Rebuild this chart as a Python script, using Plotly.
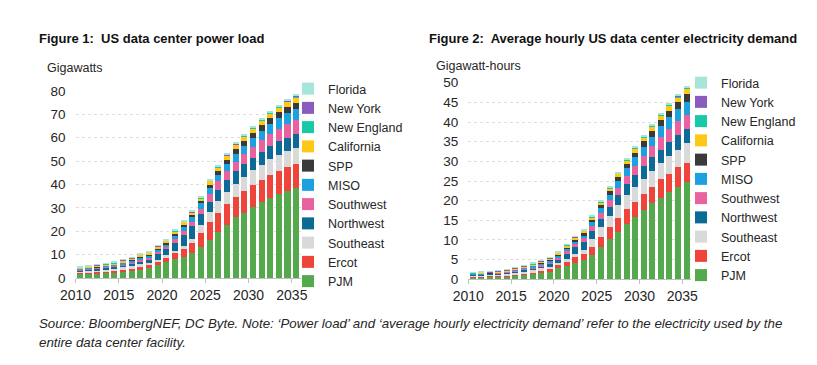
import plotly.graph_objects as go

years = list(range(2010, 2036))
regions = ["PJM", "Ercot", "Southeast", "Northwest", "Southwest", "MISO", "SPP",
           "California", "New England", "New York", "Florida"]
colors = ["#53A94B", "#EE4439", "#D9D9D9", "#0B6A96", "#E9619F", "#1CA0E0", "#3A3A3A",
          "#FFC814", "#17C9A6", "#8B5BBF", "#A6E5DA"]

# Figure 1: power load, gigawatts (one list per region, 2010..2035)
gw_pjm = [1.8, 1.9, 2.0, 2.2, 2.4, 2.7, 3.0, 3.6, 4.2, 5.4, 6.8, 8.0, 9.1, 10.6, 13.3, 16.4, 19.6, 22.8, 25.9, 28.0, 30.4, 32.4, 34.3, 36.1, 37.4, 38.6]
gw_ercot = [0.5, 0.6, 0.6, 0.7, 0.7, 0.8, 0.9, 1.1, 1.2, 1.4, 1.7, 2.8, 3.2, 4.2, 5.8, 7.5, 8.4, 8.8, 8.8, 9.3, 9.4, 9.6, 9.7, 9.7, 9.9, 10.0]
gw_southeast = [0.6, 0.7, 0.8, 0.8, 0.9, 1.0, 1.1, 1.2, 1.2, 1.0, 1.2, 0.9, 1.5, 1.9, 3.6, 4.2, 4.9, 5.3, 5.7, 6.0, 6.2, 6.5, 6.7, 6.9, 7.0, 7.1]
gw_northwest = [0.5, 0.5, 0.6, 0.7, 0.8, 0.9, 1.1, 1.3, 1.5, 2.6, 2.5, 3.4, 4.5, 5.5, 4.5, 4.6, 4.9, 5.1, 5.3, 5.5, 5.5, 5.6, 5.6, 5.7, 5.8, 5.9]
gw_southwest = [0.3, 0.3, 0.3, 0.4, 0.4, 0.5, 0.6, 0.7, 0.8, 0.9, 1.1, 1.6, 1.7, 1.9, 2.4, 3.3, 3.6, 3.8, 4.1, 4.4, 4.7, 5.0, 5.3, 5.5, 5.7, 5.8]
gw_miso = [0.3, 0.3, 0.4, 0.4, 0.5, 0.6, 0.7, 0.8, 0.8, 0.9, 1.1, 1.3, 1.7, 1.9, 2.4, 2.5, 2.7, 2.9, 3.4, 3.4, 3.6, 3.9, 4.2, 4.4, 4.6, 4.8]
gw_spp = [0.1, 0.1, 0.1, 0.2, 0.2, 0.3, 0.4, 0.5, 0.5, 0.6, 0.8, 1.0, 1.1, 1.0, 1.1, 1.5, 1.7, 1.9, 2.0, 2.1, 2.2, 2.3, 2.5, 2.6, 2.7, 2.8]
gw_california = [0.3, 0.4, 0.5, 0.5, 0.5, 0.6, 0.6, 0.7, 0.7, 0.7, 0.8, 1.0, 1.2, 0.9, 1.0, 1.5, 1.6, 1.7, 1.8, 1.9, 2.0, 2.0, 2.1, 2.1, 2.2, 2.3]
gw_newengland = [0.1, 0.1, 0.2, 0.1, 0.1, 0.1, 0.1, 0.1, 0.1, 0.1, 0.1, 0.2, 0.2, 0.3, 0.3, 0.3, 0.3, 0.3, 0.3, 0.3, 0.3, 0.3, 0.4, 0.4, 0.4, 0.4]
gw_newyork = [0.2, 0.2, 0.2, 0.2, 0.2, 0.2, 0.2, 0.2, 0.1, 0.1, 0.1, 0.1, 0.1, 0.1, 0.1, 0.1, 0.1, 0.1, 0.1, 0.1, 0.1, 0.1, 0.1, 0.1, 0.1, 0.2]
gw_florida = [0.1, 0.2, 0.2, 0.2, 0.2, 0.2, 0.2, 0.2, 0.3, 0.3, 0.4, 0.5, 0.3, 0.5, 0.5, 0.4, 0.4, 0.4, 0.4, 0.5, 0.5, 0.5, 0.5, 0.5, 0.5, 0.5]

# Figure 2: average hourly electricity demand, gigawatt-hours
gwh_pjm = [0.6, 0.65, 0.75, 0.8, 0.9, 1.0, 1.2, 1.45, 1.75, 2.1, 2.8, 3.5, 4.2, 4.9, 6.2, 8.1, 10.2, 12.0, 14.1, 15.8, 17.5, 19.3, 20.8, 22.3, 23.6, 24.8]
gwh_ercot = [0.2, 0.2, 0.2, 0.25, 0.25, 0.3, 0.35, 0.4, 0.45, 0.5, 0.8, 1.2, 1.4, 1.5, 2.1, 2.7, 3.2, 3.6, 3.8, 3.9, 4.2, 4.3, 4.6, 4.6, 4.9, 4.9]
gwh_southeast = [0.25, 0.25, 0.3, 0.3, 0.35, 0.4, 0.45, 0.5, 0.55, 0.55, 0.6, 0.5, 0.8, 1.0, 1.9, 2.4, 2.8, 3.3, 3.5, 3.8, 3.9, 4.0, 4.1, 4.5, 4.5, 4.9]
gwh_northwest = [0.2, 0.2, 0.2, 0.25, 0.3, 0.35, 0.45, 0.55, 0.65, 0.9, 1.0, 1.3, 1.8, 2.1, 2.2, 2.2, 2.3, 2.5, 2.8, 3.0, 3.2, 3.4, 3.5, 3.5, 3.7, 3.5]
gwh_southwest = [0.1, 0.1, 0.1, 0.1, 0.15, 0.2, 0.25, 0.3, 0.35, 0.4, 0.5, 0.7, 0.8, 0.9, 1.2, 1.5, 1.6, 1.9, 2.1, 2.4, 2.6, 2.8, 3.2, 3.4, 3.6, 3.8]
gwh_miso = [0.1, 0.1, 0.1, 0.15, 0.15, 0.2, 0.25, 0.3, 0.35, 0.4, 0.5, 0.6, 0.7, 0.9, 1.0, 1.2, 1.4, 1.7, 1.9, 2.1, 2.3, 2.5, 2.8, 2.9, 3.0, 3.3]
gwh_spp = [0.05, 0.05, 0.05, 0.05, 0.05, 0.1, 0.15, 0.2, 0.2, 0.25, 0.3, 0.4, 0.5, 0.5, 0.6, 0.8, 0.9, 1.0, 1.1, 1.2, 1.4, 1.5, 1.6, 1.7, 1.8, 2.0]
gwh_california = [0.15, 0.15, 0.15, 0.15, 0.2, 0.2, 0.25, 0.25, 0.3, 0.3, 0.4, 0.5, 0.5, 0.6, 0.6, 0.7, 0.8, 0.9, 1.0, 1.1, 1.1, 1.2, 1.2, 1.3, 1.3, 1.3]
gwh_newengland = [0.05, 0.05, 0.05, 0.05, 0.05, 0.05, 0.05, 0.05, 0.05, 0.05, 0.05, 0.1, 0.1, 0.1, 0.15, 0.15, 0.15, 0.15, 0.2, 0.2, 0.2, 0.2, 0.2, 0.25, 0.25, 0.3]
gwh_newyork = [0.1, 0.1, 0.1, 0.1, 0.1, 0.15, 0.1, 0.1, 0.1, 0.05, 0.05, 0.05, 0.05, 0.05, 0.05, 0.05, 0.05, 0.05, 0.05, 0.05, 0.05, 0.05, 0.05, 0.1, 0.1, 0.1]
gwh_florida = [0.1, 0.1, 0.1, 0.1, 0.1, 0.1, 0.15, 0.15, 0.2, 0.2, 0.2, 0.2, 0.15, 0.25, 0.2, 0.2, 0.3, 0.2, 0.25, 0.25, 0.25, 0.25, 0.25, 0.25, 0.25, 0.2]

gw_series = [gw_pjm, gw_ercot, gw_southeast, gw_northwest, gw_southwest, gw_miso,
             gw_spp, gw_california, gw_newengland, gw_newyork, gw_florida]
gwh_series = [gwh_pjm, gwh_ercot, gwh_southeast, gwh_northwest, gwh_southwest, gwh_miso,
              gwh_spp, gwh_california, gwh_newengland, gwh_newyork, gwh_florida]

tick_years = [2010, 2015, 2020, 2025, 2030, 2035]

W, H = 817, 365
FONT = "Liberation Sans, Arial, sans-serif"
TXT = "#262626"

fig = go.Figure()
for name, col, v in zip(regions, colors, gw_series):
    fig.add_trace(go.Bar(x=years, y=v, name=name, marker=dict(color=col, line=dict(width=0)),
                         width=0.7, xaxis="x", yaxis="y", legend="legend"))
for name, col, v in zip(regions, colors, gwh_series):
    fig.add_trace(go.Bar(x=years, y=v, name=name, marker=dict(color=col, line=dict(width=0)),
                         width=0.7, xaxis="x2", yaxis="y2", legend="legend2"))

def px_x(p):
    return p / W

def px_y(p):
    return 1 - p / H

xcommon = dict(type="linear", range=[2009.5, 2035.5],
               tickvals=[y - 0.5 for y in tick_years], ticktext=[str(y) for y in tick_years],
               showline=True, linecolor="#BFBFBF", linewidth=1,
               ticks="outside", ticklen=4, tickcolor="#BFBFBF",
               showgrid=False, zeroline=False, automargin=False,
               tickfont=dict(family=FONT, size=14, color=TXT), fixedrange=True)
ycommon = dict(showgrid=True, gridcolor="#DDDDDD", griddash="dot", gridwidth=1,
               zeroline=False, showline=False, ticks="", ticklabelstandoff=9, automargin=False,
               tickfont=dict(family=FONT, size=13.5, color=TXT), fixedrange=True)

fig.update_layout(
    width=W, height=H,
    margin=dict(l=0, r=0, t=0, b=0, pad=0, autoexpand=False),
    paper_bgcolor="white", plot_bgcolor="white",
    barmode="stack",
    font=dict(family=FONT, color=TXT),
    xaxis=dict(domain=[px_x(75.5), px_x(300.5)], anchor="y", **xcommon),
    yaxis=dict(domain=[px_y(278), px_y(91)], range=[0, 80], dtick=10, anchor="x", **ycommon),
    xaxis2=dict(domain=[px_x(468.3), px_x(690.9)], anchor="y2", **xcommon),
    yaxis2=dict(domain=[px_y(279.3), px_y(82.7)], range=[0, 50], dtick=5, anchor="x2", **ycommon),
    legend=dict(x=px_x(288), y=px_y(74), xanchor="left", yanchor="top",
                traceorder="reversed", tracegroupgap=0, itemwidth=30,
                font=dict(family=FONT, size=12.5, color=TXT), bgcolor="rgba(0,0,0,0)"),
    legend2=dict(x=px_x(681), y=px_y(68), xanchor="left", yanchor="top",
                 traceorder="reversed", tracegroupgap=0, itemwidth=30,
                 font=dict(family=FONT, size=12.5, color=TXT), bgcolor="rgba(0,0,0,0)"),
    showlegend=True,
)

annos = [
    dict(text="<b>Figure 1:  US data center power load</b>", x=px_x(37), y=px_y(38),
         size=13),
    dict(text="<b>Figure 2:  Average hourly US data center electricity demand</b>",
         x=px_x(427), y=px_y(38), size=13),
    dict(text="Gigawatts", x=px_x(45), y=px_y(68), size=12.5),
    dict(text="Gigawatt-hours", x=px_x(434), y=px_y(66), size=12.5),
    dict(text="<i>Source: BloombergNEF, DC Byte. Note: \u2018Power load\u2019 and \u2018average hourly electricity demand\u2019 refer to the electricity used by the</i>",
         x=px_x(37), y=px_y(323), size=13.3),
    dict(text="<i>entire data center facility.</i>", x=px_x(37), y=px_y(342), size=13.3),
]
for a in annos:
    fig.add_annotation(text=a["text"], x=a["x"], y=a["y"], xref="paper", yref="paper",
                       xanchor="left", yanchor="middle", showarrow=False,
                       font=dict(family=FONT, size=a["size"], color="#111111" if "Figure" in a["text"] else TXT))

fig.write_html("out.html", config={"displayModeBar": False},
               post_script="document.body.style.margin='0px';")
